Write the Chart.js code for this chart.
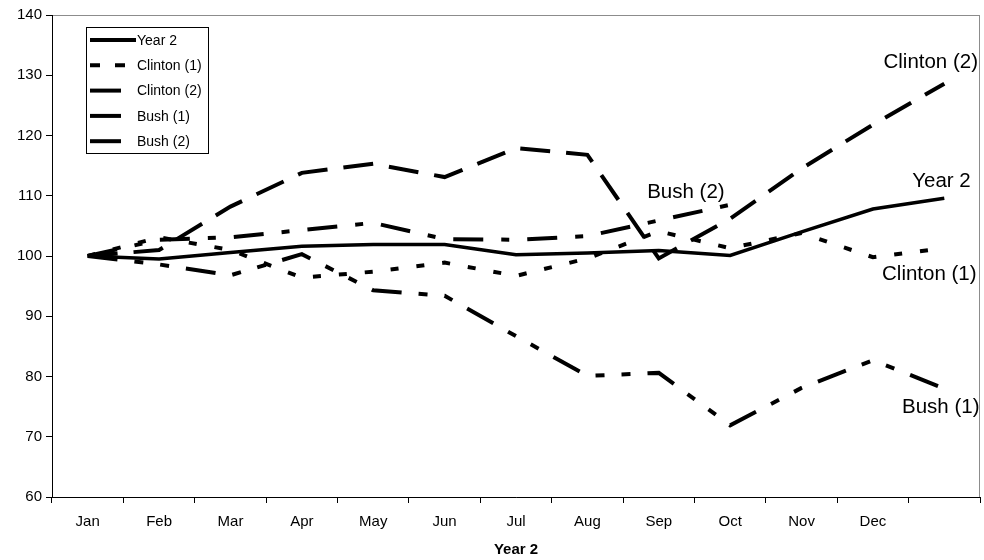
<!DOCTYPE html>
<html>
<head>
<meta charset="utf-8">
<script src="https://cdn.jsdelivr.net/npm/chart.js@4/dist/chart.umd.min.js"></script>
<style>
  html, body { margin: 0; padding: 0; background: #fff; }
  #wrap { width: 984px; height: 560px; }
</style>
</head>
<body>
<div id="wrap"><canvas id="c" width="984" height="560"></canvas></div>
<script>
// Index values, January of year two = 100
const months   = ['Jan', 'Feb', 'Mar', 'Apr', 'May', 'Jun', 'Jul', 'Aug', 'Sep', 'Oct', 'Nov', 'Dec', ''];
const year2    = [100, 99.5, 100.6, 101.6, 101.9, 101.9, 100.2, 100.5, 100.9, 100.1, 104.0, 107.8, 109.6];
const clinton1 = [100, 103.1, 101.0, 96.4, 97.4, 98.9, 96.7, 99.6, 104.1, 101.3, 103.8, 99.8, 101.3];
const clinton2 = [100, 101.0, 108.2, 113.8, 115.3, 113.1, 117.9, 116.8, 99.6, 106.2, 114.5, 121.8, 128.6];
const bush1    = [100, 98.6, 96.8, 100.3, 94.3, 93.4, 86.7, 80.1, 80.6, 71.9, 78.1, 82.7, 78.0];
const bush2    = [100, 102.7, 103.1, 104.3, 105.5, 102.8, 102.7, 103.3, 105.9, 108.5];
const yTicks   = { min: 60, max: 140, step: 10 };

// Series names written next to the lines: [text, category position, value]
const seriesNotes = [
  ['Clinton (2)', 11.81, 132.2],
  ['Year 2',      11.96, 112.4],
  ['Bush (2)',     8.38, 110.6],
  ['Clinton (1)', 11.79,  97.0],
  ['Bush (1)',    11.95,  74.8]
];

const FONT = '"Liberation Sans", Arial, Helvetica, sans-serif';

// Grey frame round the plotting area (left and bottom get the black axes on top)
const plotFrame = {
  id: 'plotFrame',
  beforeDraw(chart) {
    const { ctx, chartArea: a } = chart;
    ctx.save();
    ctx.strokeStyle = '#8c8c8c';
    ctx.lineWidth = 1;
    ctx.strokeRect(Math.round(a.left) + 0.5, Math.round(a.top) + 0.5,
                   Math.round(a.right - a.left) - 1, Math.round(a.bottom - a.top));
    ctx.restore();
  }
};

// Text labels beside the lines
const lineNotes = {
  id: 'lineNotes',
  afterDatasetsDraw(chart) {
    const { ctx, scales: { x, y } } = chart;
    ctx.save();
    ctx.fillStyle = '#000';
    ctx.font = '20.5px ' + FONT;
    ctx.textAlign = 'center';
    ctx.textBaseline = 'middle';
    seriesNotes.forEach(([t, cx, v]) => {
      ctx.fillText(t, x.getPixelForValue(cx), y.getPixelForValue(v));
    });
    ctx.restore();
  }
};

// Boxed legend inside the plot, upper left
const boxLegend = {
  id: 'boxLegend',
  afterDraw(chart) {
    const { ctx, chartArea: a } = chart;
    const left = a.left + 34, top = a.top + 12, w = 122, h = 126;
    ctx.save();
    ctx.fillStyle = '#fff';
    ctx.fillRect(left, top, w, h);
    ctx.strokeStyle = '#000';
    ctx.lineWidth = 1;
    ctx.strokeRect(left + 0.5, top + 0.5, w, h);
    ctx.font = '14px ' + FONT;
    ctx.textBaseline = 'middle';
    ctx.textAlign = 'left';
    chart.data.datasets.forEach((ds, i) => {
      const cy = top + 13 + i * 25.3;
      const x0 = left + 4;
      const len = ds.legendLen || 31;
      ctx.beginPath();
      ctx.setLineDash(ds.legendDash || []);
      ctx.lineCap = 'butt';
      ctx.lineWidth = 4;
      ctx.strokeStyle = '#000';
      ctx.moveTo(x0, cy);
      ctx.lineTo(x0 + len, cy);
      ctx.stroke();
      ctx.setLineDash([]);
      ctx.fillStyle = '#000';
      ctx.fillText(ds.label, left + 51, cy + 1);
    });
    ctx.restore();
  }
};

const line = (label, data, width, dash, legendDash, legendLen) => ({
  label, data,
  borderColor: '#000',
  backgroundColor: '#000',
  borderWidth: width,
  borderDash: dash,
  legendDash, legendLen,
  fill: false,
  pointRadius: 0,
  tension: 0
});

new Chart(document.getElementById('c'), {
  type: 'line',
  data: {
    labels: months,
    datasets: [
      line('Year 2',      year2,    3.5, [],                       [],       46),
      line('Clinton (1)', clinton1, 4,   [8, 18],                  [10, 15], 35),
      line('Clinton (2)', clinton2, 4,   [30, 16],                 [],       31),
      line('Bush (1)',    bush1,    4,   [30, 17, 9, 17, 9, 17],   [],       31),
      line('Bush (2)',    bush2,    4,   [30, 18, 8, 18],          [],       31)
    ]
  },
  options: {
    responsive: false,
    animation: false,
    devicePixelRatio: 1,
    layout: { padding: { top: 15, right: 4, left: 0, bottom: 0 } },
    elements: {
      line: { borderCapStyle: 'butt', borderJoinStyle: 'miter' },
      point: { radius: 0 }
    },
    plugins: {
      legend: { display: false },
      tooltip: { enabled: false }
    },
    scales: {
      x: {
        offset: true,
        grid: { offset: true, drawOnChartArea: false, drawTicks: true, tickLength: 6, color: '#000' },
        border: { color: '#000', width: 1 },
        ticks: { color: '#000', font: { family: FONT, size: 15 }, padding: 10, maxRotation: 0, autoSkip: false },
        title: { display: true, text: 'Year 2', color: '#000',
                 font: { family: FONT, size: 15, weight: 'bold' }, padding: { top: 0, bottom: 1 } },
        afterFit(s) { s.height = 63; }
      },
      y: {
        min: yTicks.min,
        max: yTicks.max,
        ticks: { stepSize: yTicks.step, color: '#000', font: { family: FONT, size: 15 }, padding: 4 },
        grid: { drawOnChartArea: false, drawTicks: true, tickLength: 6, color: '#000' },
        border: { color: '#000', width: 1 },
        afterFit(s) { s.width = 52; }
      }
    }
  },
  plugins: [plotFrame, lineNotes, boxLegend]
});
</script>
</body>
</html>
